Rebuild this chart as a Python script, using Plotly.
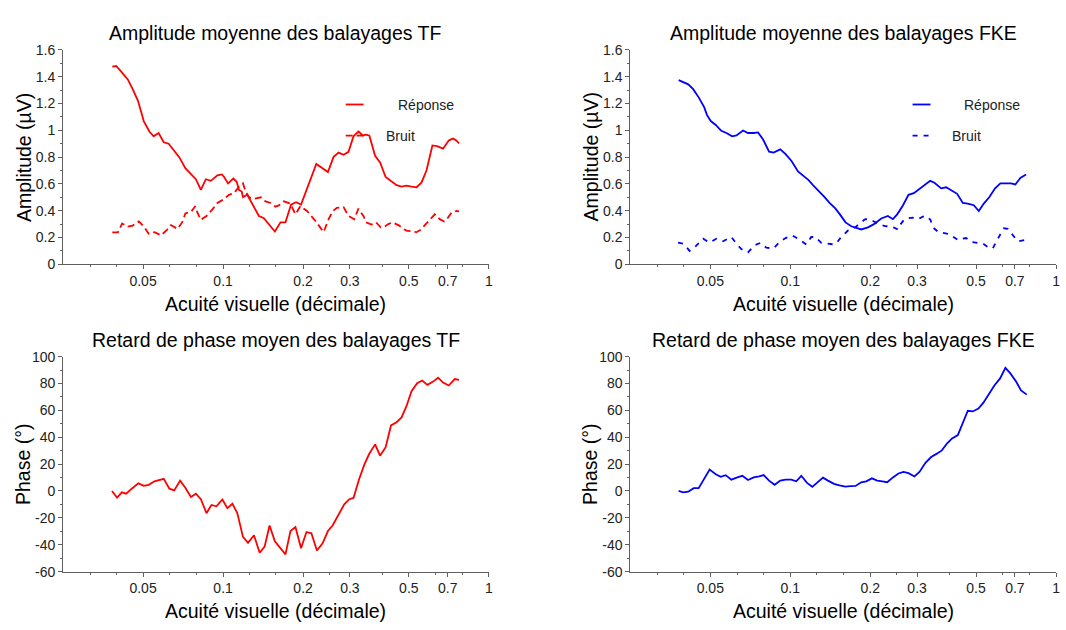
import plotly.graph_objects as go

# ---------------- data ----------------
# TF - amplitude response
tf_resp_x = [0.0383,0.0396,0.0410,0.0426,0.0438,0.0457,0.0478,0.0492,0.0503,0.0528,0.0548,0.0572,0.0598,0.0624,0.0650,
             0.0685,0.0721,0.0757,0.0790,0.0825,0.0861,0.0899,0.0952,0.0989,0.1009,0.1044,0.1093,0.1125,0.1148,0.1175,
             0.1188,0.1233,0.1307,0.1364,0.1424,0.1487,0.1566,0.1645,0.1717,0.1802,0.1882,0.1965,0.2099,0.2243,0.2480,
             0.2605,0.2720,0.2840,0.2965,0.3095,0.3231,0.3354,0.3453,0.3553,0.3732,0.3897,0.4089,0.4247,0.4496,0.4694,
             0.4901,0.5117,0.5342,0.5577,0.5824,0.6132,0.6386,0.6725,0.7065,0.7332,0.7543,0.7720]
tf_resp_y = [1.476,1.48,1.447,1.41,1.38,1.307,1.222,1.137,1.069,0.991,0.955,0.98,0.911,0.9,0.858,
             0.798,0.718,0.676,0.635,0.555,0.635,0.623,0.664,0.671,0.652,0.604,0.64,0.616,0.555,0.543,
             0.502,0.519,0.434,0.361,0.344,0.30,0.245,0.313,0.313,0.446,0.463,0.446,0.604,0.749,0.689,
             0.802,0.834,0.817,0.839,0.955,0.991,0.962,0.967,0.96,0.81,0.761,0.652,0.628,0.591,0.58,
             0.587,0.58,0.575,0.609,0.70,0.887,0.882,0.863,0.924,0.938,0.924,0.902]

# TF - amplitude noise
tf_noise_x = [0.0383,0.0402,0.0417,0.0438,0.0457,0.0482,0.0506,0.0525,0.0552,0.0584,0.0615,0.0637,0.0674,0.0704,
              0.0721,0.0757,0.0785,0.0801,0.0825,0.0866,0.0912,0.0952,0.1000,0.1053,0.1100,0.1148,0.1188,0.1216,
              0.1252,0.1318,0.1388,0.1445,0.1509,0.1575,0.1621,0.1693,0.1793,0.1872,0.1954,0.2069,0.2224,0.2389,
              0.2495,0.2589,0.2680,0.2840,0.2965,0.3114,0.3231,0.3374,0.3453,0.3615,0.3765,0.3917,0.4043,0.4185,
              0.4343,0.4602,0.4764,0.4901,0.5342,0.5563,0.5744,0.5997,0.6261,0.6537,0.6784,0.7021,0.7225,0.7543,
              0.7720]
tf_noise_y = [0.238,0.238,0.305,0.281,0.289,0.32,0.276,0.228,0.24,0.216,0.257,0.293,0.264,0.318,
              0.38,0.39,0.434,0.385,0.332,0.361,0.41,0.458,0.482,0.519,0.531,0.58,0.604,0.543,
              0.50,0.49,0.50,0.47,0.458,0.43,0.44,0.47,0.453,0.373,0.434,0.398,0.325,0.24,
              0.337,0.398,0.422,0.427,0.361,0.337,0.415,0.361,0.313,0.297,0.313,0.276,0.28,0.30,
              0.313,0.289,0.264,0.252,0.24,0.26,0.293,0.332,0.373,0.337,0.32,0.349,0.385,0.398,
              0.395]

# TF - phase
tf_phase_x = [0.0382,0.0399,0.0416,0.0432,0.0453,0.0480,0.0503,0.0525,0.0552,0.0576,0.0598,0.0628,0.0655,0.0689,
              0.0719,0.0757,0.0790,0.0825,0.0866,0.0904,0.0944,0.0994,0.1038,0.1084,0.1131,0.1188,0.1241,0.1307,
              0.1373,0.1433,0.1496,0.1566,0.1645,0.1717,0.1793,0.1872,0.1965,0.2059,0.2149,0.2255,0.2368,0.2480,
              0.2582,0.2720,0.2857,0.2983,0.3095,0.3251,0.3403,0.3544,0.3732,0.3897,0.4089,0.4284,0.4496,0.4694,
              0.4901,0.5117,0.5374,0.5612,0.5874,0.6170,0.6442,0.6725,0.7065,0.7439,0.7720]
tf_phase_y = [0,-4.9,-1,-2,1.7,5.7,3.8,4.6,7.2,8.2,9.1,1.7,0.4,7.7,
              2.8,-4.4,-2,-6.1,-16.5,-10.4,-11.4,-6.3,-12.8,-9.5,-16.5,-34.2,-38.5,-32.9,
              -46,-41.4,-25.7,-37.5,-42.3,-47.2,-29.8,-26.9,-42.6,-30.5,-31.5,-44.3,-38.9,-29.8,
              -25.7,-17.7,-9.9,-6.1,-5.2,8.9,19.8,27.5,34.7,26.3,32.6,48.8,51.2,54.8,
              63.3,74.2,80.2,82.2,79,81.4,84.3,80.7,78.5,83.3,82.6]

# FKE - amplitude response
fke_resp_x = [0.0380,0.0395,0.0413,0.0431,0.0452,0.0474,0.0486,0.0502,0.0524,0.0550,0.0575,0.0604,0.0627,0.0664,
              0.0693,0.0728,0.0756,0.0790,0.0832,0.0865,0.0917,0.0960,0.1009,0.1069,0.1132,0.1172,0.1217,0.1282,
              0.1346,0.1405,0.1477,0.1542,0.1614,0.1696,0.1760,0.1849,0.1960,0.2064,0.2199,0.2330,0.2433,0.2525,
              0.2653,0.2785,0.2917,0.3062,0.3218,0.3360,0.3487,0.3696,0.3860,0.4054,0.4245,0.4459,0.4656,0.4905,
              0.5122,0.5348,0.5614,0.5898,0.6174,0.6486,0.6773,0.7031,0.7342,0.7713]
fke_resp_y = [1.375,1.36,1.343,1.307,1.246,1.173,1.113,1.069,1.04,0.996,0.98,0.955,0.962,0.999,
              0.98,0.98,0.984,0.931,0.841,0.834,0.858,0.822,0.773,0.693,0.652,0.628,0.591,0.548,
              0.502,0.458,0.417,0.369,0.313,0.284,0.274,0.26,0.276,0.30,0.342,0.361,0.337,0.373,
              0.439,0.519,0.531,0.562,0.596,0.623,0.609,0.567,0.575,0.551,0.526,0.458,0.453,0.441,
              0.398,0.453,0.502,0.567,0.604,0.604,0.604,0.596,0.645,0.671]

# FKE - amplitude noise
fke_noise_x = [0.0378,0.0395,0.0406,0.0418,0.0441,0.0455,0.0470,0.0497,0.0511,0.0527,0.0558,0.0580,0.0600,0.0627,
               0.0654,0.0693,0.0713,0.0734,0.0773,0.0791,0.0812,0.0865,0.0886,0.0912,0.0960,0.1017,0.1078,0.1109,
               0.1149,0.1199,0.1245,0.1308,0.1354,0.1393,0.1467,0.1515,0.1555,0.1648,0.1703,0.1755,0.1849,0.1906,
               0.1970,0.2075,0.2185,0.2296,0.2398,0.2541,0.2576,0.2690,0.2753,0.2893,0.3021,0.3154,0.3246,0.3368,
               0.3440,0.3610,0.3751,0.3917,0.4064,0.4208,0.4293,0.4432,0.4589,0.4792,0.5003,0.5302,0.5536,0.5781,
               0.5948,0.6211,0.6359,0.6582,0.6934,0.7178,0.7600,0.7713]
fke_noise_y = [0.162,0.155,0.13,0.10,0.136,0.165,0.191,0.162,0.175,0.191,0.172,0.19,0.204,0.155,
               0.114,0.089,0.115,0.143,0.16,0.14,0.124,0.119,0.14,0.167,0.196,0.216,0.187,0.17,
               0.148,0.204,0.204,0.16,0.155,0.155,0.148,0.175,0.204,0.252,0.27,0.276,0.313,0.335,
               0.337,0.318,0.293,0.284,0.284,0.26,0.289,0.337,0.344,0.349,0.337,0.356,0.361,0.332,
               0.276,0.24,0.235,0.228,0.21,0.191,0.18,0.19,0.196,0.167,0.16,0.155,0.13,0.119,
               0.167,0.24,0.269,0.264,0.204,0.172,0.18,0.18]

# FKE - phase
fke_phase_x = [0.0380,0.0395,0.0413,0.0433,0.0452,0.0474,0.0497,0.0524,0.0547,0.0571,0.0600,0.0632,0.0660,0.0693,
               0.0728,0.0763,0.0794,0.0832,0.0873,0.0917,0.0960,0.1009,0.1053,0.1100,0.1156,0.1210,0.1271,0.1327,
               0.1386,0.1460,0.1532,0.1610,0.1685,0.1760,0.1849,0.1931,0.2028,0.2124,0.2218,0.2316,0.2433,0.2553,
               0.2666,0.2785,0.2933,0.3062,0.3226,0.3389,0.3561,0.3719,0.3892,0.4064,0.4271,0.4459,0.4656,0.4862,
               0.5104,0.5330,0.5585,0.5861,0.6159,0.6448,0.6733,0.7073,0.7386,0.7759]
fke_phase_y = [0,-1,-0.5,2.1,2.1,9.4,15.9,12.5,10.6,11.8,8.4,10.1,11.3,8.2,
               10.1,10.8,11.8,7.7,4.6,7.7,8.4,8.4,7.2,11.3,6,3.1,6.5,9.9,
               7.7,5.3,4.1,3.3,3.6,3.8,6.5,7.2,9.4,7.7,7.2,6.5,10.1,13,
               14.2,13.3,10.8,14.2,21,25.3,27.8,30.2,35.5,39.1,41.6,51.2,59.7,59.2,
               61.3,65.7,72.2,78.5,83.8,91.6,87.5,81.4,74.9,71.7]

x_tick_vals = [0.05, 0.1, 0.2, 0.3, 0.5, 0.7, 1]
x_tick_text = ["0.05", "0.1", "0.2", "0.3", "0.5", "0.7", "1"]
x_minor_vals = [0.0316, 0.0398, 0.0631, 0.0794, 0.126, 0.158, 0.251, 0.398, 0.631, 0.794]
amp_tick_vals = [0, 0.2, 0.4, 0.6, 0.8, 1.0, 1.2, 1.4, 1.6]
amp_tick_text = ["0", "0.2", "0.4", "0.6", "0.8", "1", "1.2", "1.4", "1.6"]
phase_tick_vals = [-60, -40, -20, 0, 20, 40, 60, 80, 100]
phase_tick_text = ["-60", "-40", "-20", "0", "20", "40", "60", "80", "100"]

titles = ["Amplitude moyenne des balayages TF", "Amplitude moyenne des balayages FKE",
          "Retard de phase moyen des balayages TF", "Retard de phase moyen des balayages FKE"]
x_title = "Acuité visuelle (décimale)"
amp_title = "Amplitude (µV)"
phase_title = "Phase (°)"
legend_labels = ["Réponse", "Bruit"]

# ---------------- figure ----------------
W, H = 1066, 630
RED, BLUE = "#FF0000", "#0000FF"
FONT = "Liberation Sans, Arial, sans-serif"
AXC = "#606060"

def fx(p):
    return p / W

def fy(p):
    return 1 - p / H

fig = go.Figure()

def line(x, y, color, ax, dash="solid"):
    fig.add_trace(go.Scatter(x=x, y=y, mode="lines", showlegend=False, hoverinfo="skip",
                             line=dict(color=color, width=1.8, dash=dash),
                             xaxis="x" + ax, yaxis="y" + ax))

line(tf_resp_x, tf_resp_y, RED, "")
line(tf_noise_x, tf_noise_y, RED, "", "7px,4px")
line(fke_resp_x, fke_resp_y, BLUE, "2")
line(fke_noise_x, fke_noise_y, BLUE, "2", "5px,6px")
line(tf_phase_x, tf_phase_y, RED, "3")
line(fke_phase_x, fke_phase_y, BLUE, "4")

L0, L1 = 63.3, 490.7
R0, R1 = 632.7, 1060.0
T0, T1 = 43.0, 263.0
B0, B1 = 357.7, 578.3

xdoms = {"": (L0, L1), "2": (R0, R1), "3": (L0, L1), "4": (R0, R1)}
ydoms = {"": (T0, T1), "2": (T0, T1), "3": (B0, B1), "4": (B0, B1)}

layout = dict(autosize=True, margin=dict(l=0, r=0, t=0, b=0),
              paper_bgcolor="white", plot_bgcolor="white",
              font=dict(family=FONT, size=14, color="#222222"), showlegend=False)

for k in ["", "2", "3", "4"]:
    x0, x1 = xdoms[k]
    y0, y1 = ydoms[k]
    layout["xaxis" + k] = dict(
        type="log", range=[-1.60206, 0], domain=[fx(x0), fx(x1)], anchor="y" + k,
        showline=True, linecolor=AXC, linewidth=1, mirror=False,
        ticks="outside", ticklen=4, tickcolor=AXC, tickwidth=1,
        tickmode="array", tickvals=x_tick_vals, ticktext=x_tick_text,
        showgrid=False, zeroline=False, fixedrange=True,
        tickfont=dict(size=14, color="#222222"),
        minor=dict(tickmode="array", tickvals=x_minor_vals, ticks="outside", ticklen=2,
                   tickcolor=AXC, showgrid=False))
    if k in ["", "2"]:
        yv, yt, yr, mdt = amp_tick_vals, amp_tick_text, [0, 1.6], 0.1
    else:
        yv, yt, yr, mdt = phase_tick_vals, phase_tick_text, [-60, 100], 10
    layout["yaxis" + k] = dict(
        range=yr, domain=[fy(y1), fy(y0)], anchor="x" + k,
        showline=True, linecolor=AXC, linewidth=1,
        ticks="outside", ticklen=4, tickcolor=AXC, tickwidth=1,
        tickmode="array", tickvals=yv, ticktext=yt,
        showgrid=False, zeroline=False, fixedrange=True,
        tickfont=dict(size=14, color="#222222"),
        minor=dict(dtick=mdt, ticks="outside", ticklen=2, tickcolor=AXC, showgrid=False))

fig.update_layout(**layout)

ann = []
# subplot titles
for t, (cx, cy) in zip(titles, [((L0 + L1) / 2, 26), ((R0 + R1) / 2, 26),
                                 ((L0 + L1) / 2, 341), ((R0 + R1) / 2, 341)]):
    ann.append(dict(text=t, x=fx(cx), y=fy(cy), xref="paper", yref="paper",
                    xanchor="center", yanchor="middle", showarrow=False,
                    font=dict(size=19.5, color="black", family=FONT)))
# x titles
for cx, cy in [((L0 + L1) / 2, 304), ((R0 + R1) / 2, 304), ((L0 + L1) / 2, 619), ((R0 + R1) / 2, 619)]:
    ann.append(dict(text=x_title, x=fx(cx), y=fy(cy), xref="paper", yref="paper",
                    xanchor="center", yanchor="middle", showarrow=False,
                    font=dict(size=19.5, color="black", family=FONT)))
# y titles
for t, cx, cy in [(amp_title, 24, (T0 + T1) / 2), (amp_title, 593.5, (T0 + T1) / 2),
                  (phase_title, 23, (B0 + B1) / 2), (phase_title, 592, (B0 + B1) / 2)]:
    ann.append(dict(text=t, x=fx(cx), y=fy(cy), xref="paper", yref="paper", textangle=-90,
                    xanchor="center", yanchor="middle", showarrow=False,
                    font=dict(size=19.5, color="black", family=FONT)))

# legends (drawn as shapes + text)
shapes = []
for sx, color, dash2 in [(347, RED, "7px,4px"), (916, BLUE, "5px,6px")]:
    shapes.append(dict(type="line", xref="paper", yref="paper", x0=fx(sx), x1=fx(sx + 18),
                       y0=fy(99), y1=fy(99), line=dict(color=color, width=1.8)))
    shapes.append(dict(type="line", xref="paper", yref="paper", x0=fx(sx), x1=fx(sx + 18),
                       y0=fy(131), y1=fy(131), line=dict(color=color, width=1.8, dash=dash2)))
    ann.append(dict(text=legend_labels[0], x=fx(sx + 50), y=fy(100), xref="paper", yref="paper",
                    xanchor="left", yanchor="middle", showarrow=False,
                    font=dict(size=14, color="#222222", family=FONT)))
    ann.append(dict(text=legend_labels[1], x=fx(sx + 38), y=fy(131), xref="paper", yref="paper",
                    xanchor="left", yanchor="middle", showarrow=False,
                    font=dict(size=14, color="#222222", family=FONT)))

fig.update_layout(annotations=ann, shapes=shapes)

page_fix = ("document.documentElement.style.margin='0';document.body.style.margin='0';"
            "document.body.style.padding='0';document.documentElement.style.overflow='hidden';"
            "document.body.style.overflow='hidden';"
            "var gd=document.getElementById('{plot_id}');"
            "gd.style.width='100vw';gd.style.height='100vh';"
            "Plotly.Plots.resize(gd);")
fig.write_html("out.html", post_script=page_fix, default_width="100vw", default_height="100vh",
               config={"displayModeBar": False, "responsive": True})
